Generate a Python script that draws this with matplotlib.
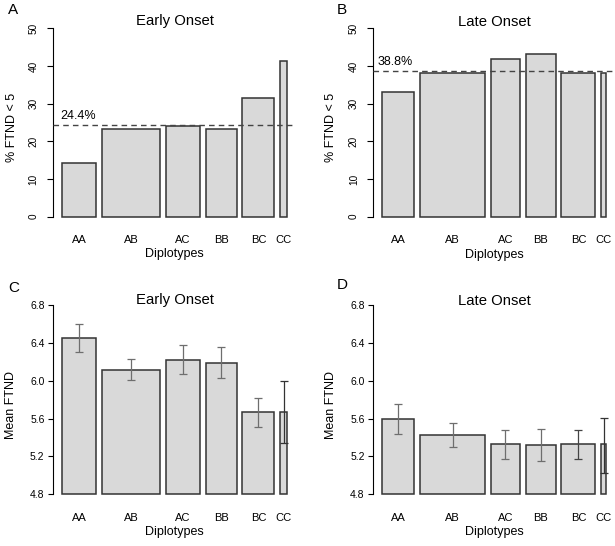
import matplotlib.pyplot as plt
import matplotlib.transforms as mtransforms
import numpy as np

plt.rcParams['font.family'] = ['Liberation Sans', 'DejaVu Sans']

diplotypes = ['AA', 'AB', 'AC', 'BB', 'BC', 'CC']

# bar widths ~ group sizes
early_width = [33.7, 58.6, 33.7, 30.7, 32.0, 6.4]
late_width = [32.0, 65.7, 29.0, 30.3, 34.3, 4.7]

# % FTND < 5
early_pct = [14.2, 23.4, 24.0, 23.2, 31.5, 41.2]
late_pct = [33.0, 38.2, 41.9, 43.1, 38.2, 38.2]
early_overall = 24.4
late_overall = 38.8

# mean FTND with error bars
early_mean = [6.45, 6.115, 6.22, 6.19, 5.67, 5.67]
early_lo = [6.30, 6.005, 6.07, 6.03, 5.51, 5.34]
early_hi = [6.60, 6.23, 6.38, 6.36, 5.82, 6.00]
late_mean = [5.60, 5.43, 5.33, 5.32, 5.33, 5.33]
late_lo = [5.44, 5.30, 5.17, 5.15, 5.17, 5.03]
late_hi = [5.75, 5.55, 5.48, 5.49, 5.48, 5.61]

W, H = 615, 546
fig = plt.figure(figsize=(W / 100, H / 100), dpi=100)


def fx(x):
    return x / W


def fy(y):
    return 1 - y / H


def make_ax(x0, y0, x1, y1):
    return fig.add_axes([fx(x0), fy(y1), fx(x1) - fx(x0), fy(y0) - fy(y1)])


def draw_bars(ax, widths, values, bottom):
    widths = np.array(widths)
    n = len(widths)
    gap = 0.18 * widths.mean()
    lefts = np.concatenate([[0], np.cumsum(widths[:-1])]) + gap * (np.arange(n) + 1)
    ax.bar(lefts, np.array(values) - bottom, width=widths, bottom=bottom,
           align='edge', color='#d9d9d9', edgecolor='#333333', linewidth=1.1,
           zorder=2)
    span = lefts[-1] + widths[-1] - lefts[0]
    ax.set_xlim(lefts[0] - 0.04 * span, lefts[-1] + widths[-1] + 0.04 * span)
    centers = lefts + widths / 2
    ax.set_xticks(centers, diplotypes)
    ax.tick_params(axis='x', length=0, pad=8, labelsize=8)
    for s in ['top', 'right', 'bottom']:
        ax.spines[s].set_visible(False)
    ax.spines['left'].set_linewidth(0.8)
    ax.set_facecolor('none')
    return centers


def pct_panel(ax, widths, values, overall, label_x):
    draw_bars(ax, widths, values, 0)
    ax.set_ylim(-2, 52)
    ax.set_yticks(np.arange(0, 51, 10))
    ax.spines['left'].set_bounds(0, 50)
    ax.tick_params(axis='y', length=4.2, width=0.8, pad=6.3, labelsize=7.2)
    plt.setp(ax.get_yticklabels(), rotation=90, va='center')
    ax.axhline(overall, color='#444444', lw=1.0, ls=(0, (4, 3)), zorder=3)
    tr = mtransforms.blended_transform_factory(ax.transAxes, ax.transData)
    ax.text(label_x, overall + 0.7, f'{overall}%', transform=tr,
            fontsize=9, va='bottom', ha='left')


def mean_panel(ax, widths, means, lo, hi, ecolors):
    centers = draw_bars(ax, widths, means, 4.8)
    ax.set_ylim(4.72, 6.88)
    ax.set_yticks(np.arange(4.8, 6.81, 0.4))
    ax.set_yticklabels([f'{v:.1f}' for v in np.arange(4.8, 6.81, 0.4)])
    ax.spines['left'].set_bounds(4.8, 6.8)
    ax.tick_params(axis='y', length=3.6, width=0.8, pad=2.7, labelsize=7.5)
    means = np.array(means)
    for c, m, l, h, ec in zip(centers, means, lo, hi, ecolors):
        ax.errorbar([c], [m], yerr=[[m - l], [h - m]], fmt='none', ecolor=ec,
                    elinewidth=0.9, capsize=2.6, capthick=0.9, zorder=4)


axA = make_ax(53.3, 20.8, 295.7, 224.2)
axB = make_ax(373.4, 20.8, 614.9, 224.2)
axC = make_ax(53.3, 297.4, 295.7, 501.9)
axD = make_ax(373.4, 297.4, 614.9, 501.9)

pct_panel(axA, early_width, early_pct, early_overall, 0.03)
pct_panel(axB, late_width, late_pct, late_overall, 0.017)

mean_panel(axC, early_width, early_mean, early_lo, early_hi,
           ['#6e6e6e'] * 5 + ['#333333'])
mean_panel(axD, late_width, late_mean, late_lo, late_hi,
           ['#6e6e6e'] * 4 + ['#444444', '#333333'])

# titles, axis labels, panel letters
for cx, cy, t in [(174.5, 21, 'Early Onset'), (494.2, 22, 'Late Onset'),
                  (174.5, 300, 'Early Onset'), (494.2, 301, 'Late Onset')]:
    fig.text(fx(cx), fy(cy), t, fontsize=10.7, ha='center', va='center')

for cx, cy in [(174.5, 254), (494.2, 255), (174.5, 532.3), (494.2, 532.3)]:
    fig.text(fx(cx), fy(cy), 'Diplotypes', fontsize=9, ha='center', va='center')

for cx, cy, t in [(11.7, 127.5, '% FTND < 5'), (331.5, 127.5, '% FTND < 5'),
                  (11, 405, 'Mean FTND'), (331, 405, 'Mean FTND')]:
    fig.text(fx(cx), fy(cy), t, fontsize=9, ha='center', va='center', rotation=90)

for cx, cy, t in [(13, 9.5, 'A'), (341.7, 9.5, 'B'), (13.3, 288, 'C'), (342.3, 285, 'D')]:
    fig.text(fx(cx), fy(cy), t, fontsize=11, ha='center', va='center')

fig.savefig('out.png', dpi=100)
